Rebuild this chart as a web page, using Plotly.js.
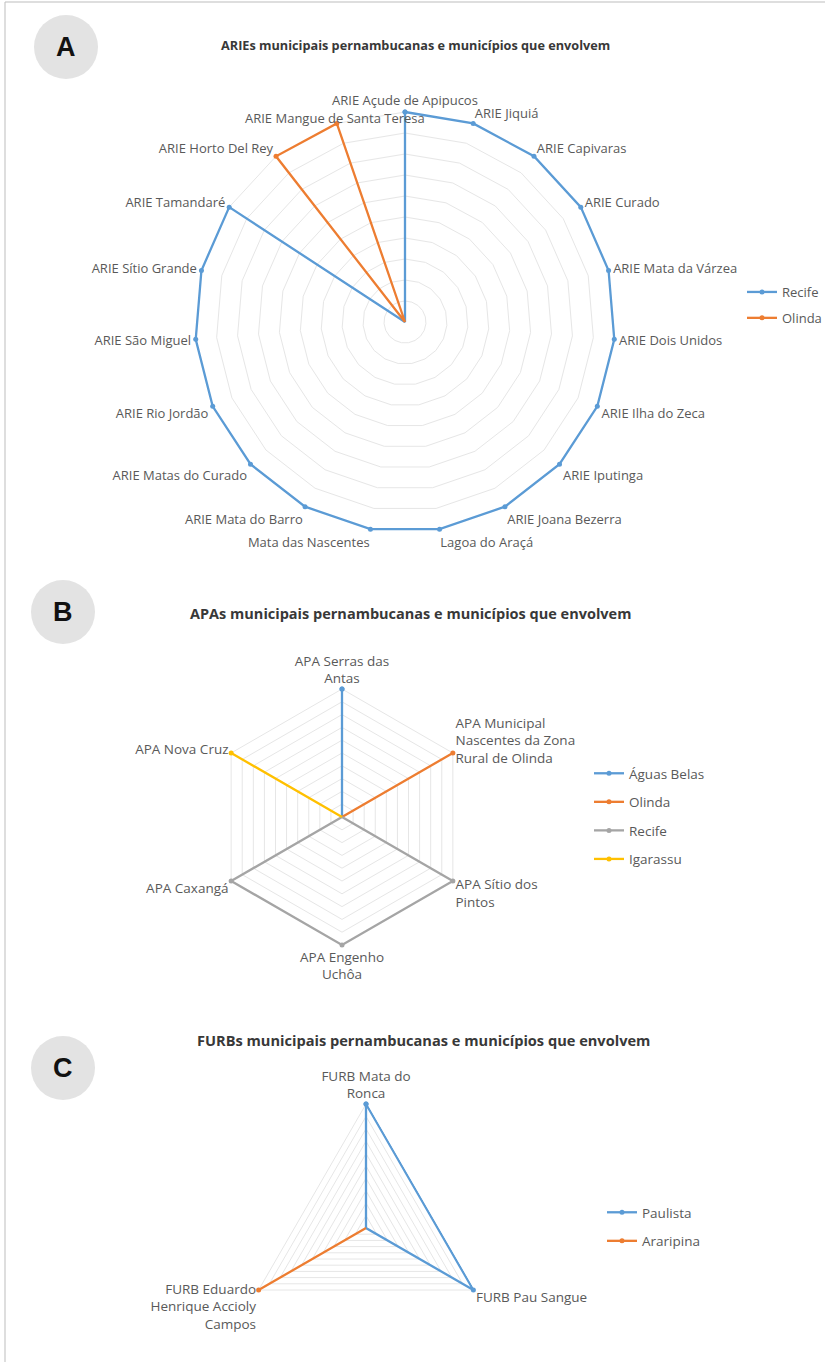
<!DOCTYPE html>
<html>
<head>
<meta charset="utf-8">
<script src="https://cdn.plot.ly/plotly-3.0.1.min.js"></script>
<style>
  html, body { margin: 0; padding: 0; background: #ffffff; overflow: hidden; }
  #chart { width: 825px; height: 1362px; }
</style>
</head>
<body>
<div id="chart"></div>
<script>
// ---------- DATA ----------
// Chart A: ARIEs
const ariesCategories = [
  "ARIE Açude de Apipucos", "ARIE Jiquiá", "ARIE Capivaras", "ARIE Curado",
  "ARIE Mata da Várzea", "ARIE Dois Unidos", "ARIE Ilha do Zeca", "ARIE Iputinga",
  "ARIE Joana Bezerra", "Lagoa do Araçá", "Mata das Nascentes", "ARIE Mata do Barro",
  "ARIE Matas do Curado", "ARIE Rio Jordão", "ARIE São Miguel", "ARIE Sítio Grande",
  "ARIE Tamandaré", "ARIE Horto Del Rey", "ARIE Mangue de Santa Teresa"
];
const ariesRecife = [1, 1, 1, 1, 1, 1, 1, 1, 1, 1, 1, 1, 1, 1, 1, 1, 1, 0, 0];
const ariesOlinda = [0, 0, 0, 0, 0, 0, 0, 0, 0, 0, 0, 0, 0, 0, 0, 0, 0, 1, 1];
// label that the original places beside the top label instead of at its own spoke
const ariesShiftedLabel = "ARIE Mangue de Santa Teresa";

// Chart B: APAs
const apasCategories = [
  "APA Serras das<br>Antas",
  "APA Municipal<br>Nascentes da Zona<br>Rural de Olinda",
  "APA Sítio dos<br>Pintos",
  "APA Engenho<br>Uchôa",
  "APA Caxangá",
  "APA Nova Cruz"
];
const apasAguasBelas = [1, 0, 0, 0, 0, 0];
const apasOlinda     = [0, 1, 0, 0, 0, 0];
const apasRecife     = [0, 0, 1, 1, 1, 0];
const apasIgarassu   = [0, 0, 0, 0, 0, 1];

// Chart C: FURBs
const furbsCategories = [
  "FURB Mata do<br>Ronca",
  "FURB Pau Sangue",
  "FURB Eduardo<br>Henrique Accioly<br>Campos"
];
const furbsPaulista  = [1, 1, 0];
const furbsAraripina = [0, 0, 1];

// ---------- STYLE ----------
const W = 825, H = 1362;
const BLUE = "#5B9BD5", ORANGE = "#ED7D31", GRAY = "#A5A5A5", YELLOW = "#FFC000";
const TXT = "#595959";
const FONT = "Open Sans, Liberation Sans, sans-serif";
const GRID = "#e6e6e6";
const RMAX = 1.02; // small headroom so the outer lines are not clipped

const px = x => x / W;
const py = y => 1 - y / H;

function closed(arr) { return arr.concat([arr[0]]); }

function series(name, cats, vals, color, polar, legend) {
  return {
    type: "scatterpolar",
    mode: "lines+markers",
    name: name,
    theta: closed(cats),
    r: closed(vals),
    subplot: polar,
    legend: legend,
    legendgroup: polar + name,
    cliponaxis: false,
    line: { color: color, width: 2.3 },
    marker: { color: color, size: 5 },
    hoverinfo: "name+theta+r"
  };
}

const traces = [
  series("Recife", ariesCategories, ariesRecife, BLUE, "polar", "legend"),
  series("Olinda", ariesCategories, ariesOlinda, ORANGE, "polar", "legend"),
  series("Águas Belas", apasCategories, apasAguasBelas, BLUE, "polar2", "legend2"),
  series("Olinda", apasCategories, apasOlinda, ORANGE, "polar2", "legend2"),
  series("Recife", apasCategories, apasRecife, GRAY, "polar2", "legend2"),
  series("Igarassu", apasCategories, apasIgarassu, YELLOW, "polar2", "legend2"),
  series("Paulista", furbsCategories, furbsPaulista, BLUE, "polar3", "legend3"),
  series("Araripina", furbsCategories, furbsAraripina, ORANGE, "polar3", "legend3")
];

function polarLayout(cx, cy, rUnit, cats, fontSize, hidden) {
  const r = rUnit * RMAX;
  return {
    domain: { x: [px(cx - r), px(cx + r)], y: [py(cy + r), py(cy - r)] },
    gridshape: "linear",
    bgcolor: "rgba(0,0,0,0)",
    radialaxis: {
      range: [0, RMAX], tickmode: "linear", tick0: 0, dtick: 0.1,
      showticklabels: false, ticks: "",
      showline: false, showgrid: true, gridcolor: GRID, gridwidth: 1,
      layer: "below traces"
    },
    angularaxis: {
      type: "category", categoryarray: cats,
      tickmode: "array", tickvals: cats,
      ticktext: cats.map(c => (c === hidden ? "" : c)),
      rotation: 90, direction: "clockwise",
      showgrid: false, showline: false, ticks: "",
      layer: "below traces",
      tickfont: { family: FONT, size: fontSize, color: TXT }
    }
  };
}

function legendLayout(x, y, size, gap) {
  return {
    x: px(x), y: py(y), xanchor: "left", yanchor: "top",
    font: { family: FONT, size: size, color: TXT },
    bgcolor: "rgba(0,0,0,0)", itemwidth: 30, tracegroupgap: gap
  };
}

function badge(cx, cy, r) {
  return {
    type: "circle", xref: "paper", yref: "paper",
    x0: px(cx - r), x1: px(cx + r), y0: py(cy + r), y1: py(cy - r),
    fillcolor: "#e3e3e3", line: { width: 0 }, layer: "below"
  };
}

function letter(t, cx, cy) {
  return {
    text: t, x: px(cx), y: py(cy), xref: "paper", yref: "paper",
    showarrow: false, xanchor: "center", yanchor: "middle",
    font: { family: "Liberation Sans, Arial, sans-serif", size: 27, color: "#111111", weight: "bold" }
  };
}

function title(t, cx, cy, size) {
  return {
    text: "<b>" + t + "</b>", x: px(cx), y: py(cy), xref: "paper", yref: "paper",
    showarrow: false, xanchor: "center", yanchor: "middle",
    font: { family: FONT, size: size, color: "#383838" }
  };
}

const layout = {
  width: W, height: H,
  margin: { l: 0, r: 0, t: 0, b: 0, autoexpand: false },
  paper_bgcolor: "#ffffff",
  showlegend: true,
  polar: polarLayout(405, 322, 210, ariesCategories, 13, ariesShiftedLabel),
  polar2: polarLayout(342, 817, 128, apasCategories, 13.5, null),
  polar3: polarLayout(366, 1228, 124, furbsCategories, 13.5, null),
  legend: legendLayout(742, 277, 13, 6),
  legend2: legendLayout(589, 758, 13.5, 8),
  legend3: legendLayout(602, 1197, 13.5, 8),
  shapes: [
    badge(66, 47, 32), badge(63, 612, 32), badge(63, 1068, 32),
    { type: "line", xref: "paper", yref: "paper", x0: px(5), x1: px(5), y0: 0, y1: py(2),
      line: { color: "#bdbdbd", width: 1 } },
    { type: "line", xref: "paper", yref: "paper", x0: px(5), x1: 1, y0: py(2), y1: py(2),
      line: { color: "#bdbdbd", width: 1 } }
  ],
  annotations: [
    letter("A", 66, 47), letter("B", 63, 612), letter("C", 63, 1068),
    title("ARIEs municipais pernambucanas e municípios que envolvem", 415, 45, 12.7),
    title("APAs municipais pernambucanas e municípios que envolvem", 410, 613, 14.5),
    title("FURBs municipais pernambucanas e municípios que envolvem", 423, 1040, 14.6),
    {
      text: ariesShiftedLabel, x: px(427), y: py(118), xref: "paper", yref: "paper",
      showarrow: false, xanchor: "right", yanchor: "middle",
      font: { family: FONT, size: 13, color: TXT }
    }
  ]
};

Plotly.newPlot("chart", traces, layout, { displayModeBar: false, staticPlot: true });
</script>
</body>
</html>
